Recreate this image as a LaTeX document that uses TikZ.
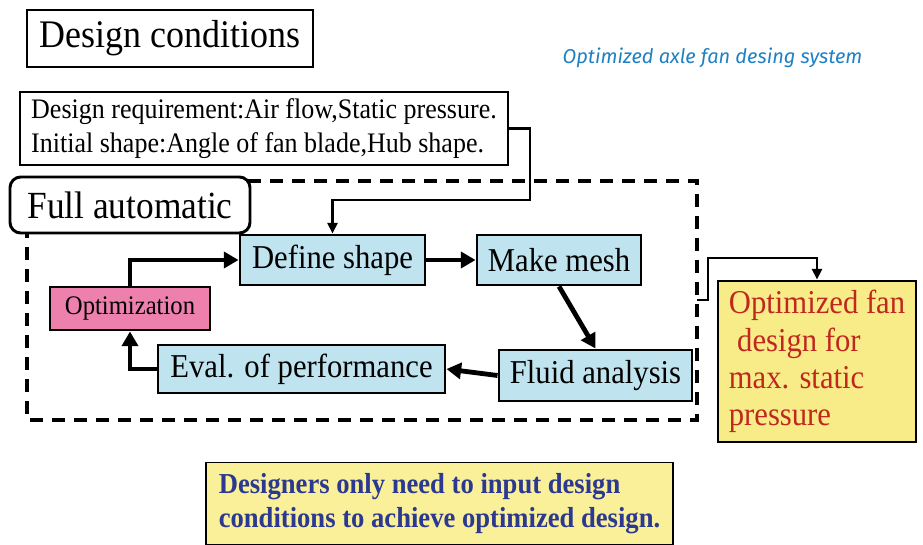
\documentclass[tikz,border=0pt]{standalone}
\usepackage{fontspec}
\setmainfont[FakeStretch=0.92]{Liberation Serif}
\newfontfamily\capfont{Fira Sans}
\usetikzlibrary{arrows.meta}
\definecolor{boxblue}{HTML}{BFE3EF}
\definecolor{boxpink}{HTML}{EE80AD}
\definecolor{boxyellow}{HTML}{F8EC88}
\definecolor{noteyellow}{HTML}{FAF09A}
\definecolor{redtext}{HTML}{C0281E}
\definecolor{bluetext}{HTML}{2B3990}
\definecolor{captionblue}{HTML}{1F80C4}
\def\px{0.75pt}
\tikzset{
  plainbox/.style={draw=black, line width=2.2pt, inner sep=0pt, fill=white},
  stepbox/.style={plainbox, fill=boxblue, font=\fontsize{25}{27}\selectfont},
  flow/.style={line width=3.6pt, -{Triangle[length=11pt,width=12pt]}},
  feed/.style={line width=2pt, -{Triangle[length=8pt,width=7.5pt]}},
}
\begin{document}
\begin{tikzpicture}[x=0.75pt,y=-0.75pt]
\useasboundingbox (0,0) rectangle (923,545);
% dashed frame
\draw[line width=3pt, dash pattern=on 10pt off 6.5pt] (27,181) rectangle (697,420);
% nodes
\node[plainbox, minimum width=286*\px, minimum height=57*\px, font=\fontsize{29.3}{31}\selectfont] (cond) at (170,38.5) {Design conditions};
\node[text=captionblue, font=\capfont\itshape\fontsize{15}{17}\selectfont] (cap) at (712.5,58) {Optimized axle fan desing system};
\node[plainbox, minimum width=488*\px, minimum height=73*\px, align=left, font=\fontsize{21.2}{25.5}\selectfont] (req) at (264,128.5) {Design requirement:Air flow,Static pressure.\\Initial shape:Angle of fan blade,Hub shape.};
\node[plainbox, rounded corners=8pt, minimum width=240*\px, minimum height=56*\px, font=\fontsize{28.8}{31}\selectfont] (full) at (130,205) {Full automatic};
\node[stepbox, minimum width=185*\px, minimum height=50*\px] (def) at (332.5,260) {Define shape};
\node[stepbox, minimum width=164*\px, minimum height=50*\px] (mesh) at (559,260) {Make mesh};
\node[plainbox, fill=boxpink, minimum width=160*\px, minimum height=43*\px, font=\fontsize{20.1}{22}\selectfont] (opt) at (130,308.5) {Optimization};
\node[stepbox, minimum width=287*\px, minimum height=48*\px] (eval) at (301.5,369) {Eval. of performance};
\node[stepbox, minimum width=193*\px, minimum height=51*\px] (fluid) at (595.5,375.5) {Fluid analysis};
\node[plainbox, fill=boxyellow, minimum width=198*\px, minimum height=161*\px, align=left, text=redtext, font=\fontsize{25}{28}\selectfont] (res) at (817,361.5) {Optimized fan\\\hspace*{0.25em}design for\\max. static\\pressure};
\node[draw=black, line width=1.2pt, inner sep=0pt, fill=noteyellow, minimum width=467*\px, minimum height=82*\px, align=left, text=bluetext, font=\bfseries\fontsize{21.7}{25.5}\selectfont] (note) at (439.5,503.5) {Designers only need to input design\\conditions to achieve optimized design.};
% connectors
\coordinate (c1) at (530,200);
\draw[feed] (req.east) -| (c1) -| (def.north);
\coordinate (d1) at (697,300);
\coordinate (d2) at (708,258);
\draw[feed] (d1) -| (d2) -| (res.north);
\draw[flow] (opt.north) |- (def.west);
\draw[flow] (def.east) -- (mesh.west);
\draw[flow] (mesh.south) -- (fluid.north);
\draw[flow] (fluid.west) -- (eval.east);
\draw[flow] (eval.west) -| (opt.south);
\end{tikzpicture}
\end{document}
